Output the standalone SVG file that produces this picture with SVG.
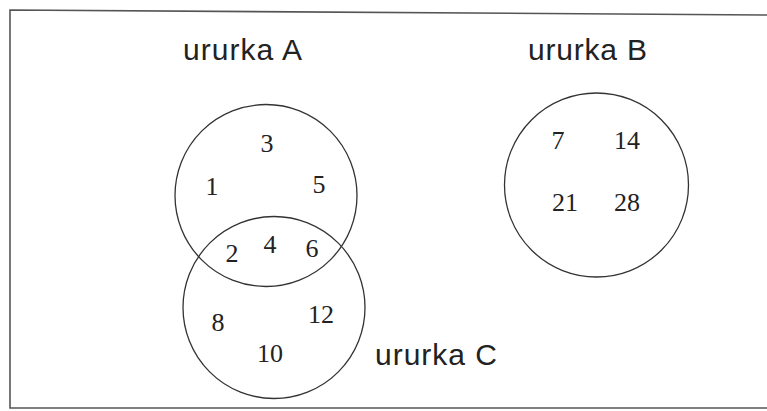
<svg xmlns="http://www.w3.org/2000/svg" width="767" height="411" viewBox="0 0 767 411">
<style>
.c{fill:none;stroke:#333;stroke-width:1.3}
.n{font-family:"Liberation Serif",serif;font-size:26px;fill:#222;text-anchor:middle}
.l{font-family:"Liberation Sans",Arial,sans-serif;font-size:30px;fill:#222}
</style>
<rect width="767" height="411" fill="#fff"/>
<g id="frame" fill="none" stroke="#555" stroke-width="1.6">
<polyline points="767,15 10,10 10,408 767,408"/>
</g>
<g id="setA">
<circle class="c" cx="266" cy="195.5" r="91"/>
<text class="l" x="183" y="60" textLength="119">ururka A</text>
<text class="n" x="267" y="152">3</text>
<text class="n" x="212" y="195">1</text>
<text class="n" x="319" y="193">5</text>
</g>
<g id="setC">
<circle class="c" cx="274" cy="307.5" r="91"/>
<text class="l" x="375" y="365" textLength="122">ururka C</text>
<text class="n" x="232" y="262">2</text>
<text class="n" x="270" y="253">4</text>
<text class="n" x="312" y="257">6</text>
<text class="n" x="218" y="331">8</text>
<text class="n" x="321" y="323">12</text>
<text class="n" x="270" y="362">10</text>
</g>
<g id="setB">
<circle class="c" cx="596.5" cy="185" r="92"/>
<text class="l" x="528" y="60" textLength="119">ururka B</text>
<text class="n" x="558" y="149">7</text>
<text class="n" x="627" y="149">14</text>
<text class="n" x="565" y="211">21</text>
<text class="n" x="627" y="211">28</text>
</g>
<g id="connectors"/>
</svg>
